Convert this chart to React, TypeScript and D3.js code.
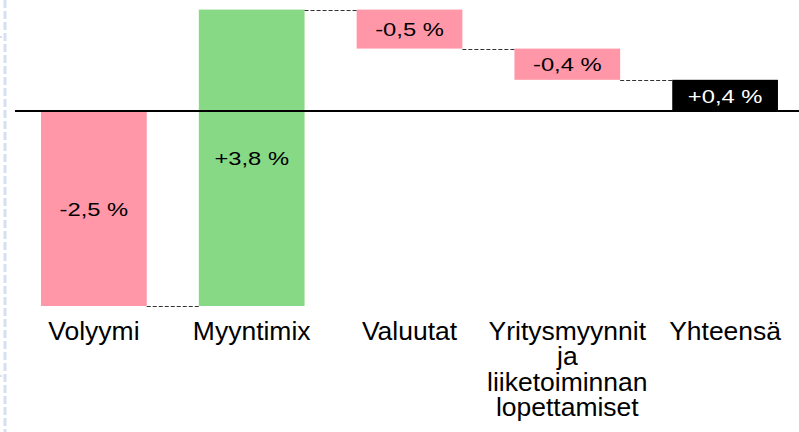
import React from 'react';
import { scaleBand, scaleLinear } from 'd3';

const categories = ['Volyymi', 'Myyntimix', 'Valuutat', 'Yritysmyynnit ja liiketoiminnan lopettamiset', 'Yhteensä'];
const categoryLines = [['Volyymi'], ['Myyntimix'], ['Valuutat'], ['Yritysmyynnit', 'ja', 'liiketoiminnan', 'lopettamiset'], ['Yhteensä']];
const changes = [-2.5, 3.8, -0.5, -0.4, 0.4];
const isTotal = [false, false, false, false, true];

const W = 799;
const H = 432;
const PINK = '#ff97a9';
const GREEN = '#88d986';

const fmt = (v: number) => (v > 0 ? '+' : '') + v.toFixed(1).replace('.', ',') + ' %';

export default function App() {
  // waterfall steps
  let run = 0;
  const steps = changes.map((v, i) => {
    if (isTotal[i]) return { start: 0, end: v, v };
    const s = run;
    run = +(run + v).toFixed(2);
    return { start: s, end: run, v };
  });

  const x = scaleBand<string>().domain(categories).range([15, 804]).paddingInner(0.33).paddingOuter(0.165);
  const y = scaleLinear().domain([-2.5, 1.3]).range([306, 9.6]);
  const bw = x.bandwidth();

  const fill = (i: number) => (isTotal[i] ? '#000' : steps[i].v < 0 ? PINK : GREEN);

  return (
    <svg width={W} height={H} style={{ position: 'absolute', left: 0, top: 0 }} fontFamily="'Liberation Sans', Arial, sans-serif">
      <rect width={W} height={H} fill="#fff" />
      {/* frame edge on the left */}
      <line x1={5} x2={5} y1={0} y2={H} stroke="#d6e0f0" strokeWidth={3} strokeDasharray="8,3" />
      <rect x={0} y={36} width={2} height={2} fill="#d6e0f0" />
      <rect x={0} y={375} width={2} height={2} fill="#d6e0f0" />

      {steps.map((s, i) => {
        const x0 = x(categories[i])!;
        const top = y(Math.max(s.start, s.end));
        const bot = y(Math.min(s.start, s.end));
        const cy = (top + bot) / 2;
        return (
          <g key={i}>
            <rect x={x0} y={top} width={bw} height={bot - top} fill={fill(i)} />
            <g transform={`translate(${x0 + bw / 2},${cy + 1}) scale(1.25,1)`}>
              <text textAnchor="middle" dominantBaseline="central" fontSize={19} fill={isTotal[i] ? '#fff' : '#000'}>
                {fmt(s.v)}
              </text>
            </g>
          </g>
        );
      })}

      {/* connectors */}
      {steps.slice(0, -1).map((s, i) => {
        const x1 = x(categories[i])! + bw;
        const x2 = x(categories[i + 1])!;
        const yy = Math.round(y(s.end)) + 0.5;
        return <line key={i} x1={x1} x2={x2} y1={yy} y2={yy} stroke="#333" strokeWidth={1} strokeDasharray="4,2" />;
      })}

      <line x1={15} x2={W} y1={y(0)} y2={y(0)} stroke="#000" strokeWidth={2} />

      {categoryLines.map((lines, i) => (
        <g key={i} transform={`translate(${x(categories[i])! + bw / 2},340) scale(1.06,1)`}>
          <text textAnchor="middle" fontSize={25} fill="#000">
            {lines.map((l, j) => (
              <tspan key={j} x={0} dy={j === 0 ? 0 : 25.5}>
                {l}
              </tspan>
            ))}
          </text>
        </g>
      ))}
    </svg>
  );
}
